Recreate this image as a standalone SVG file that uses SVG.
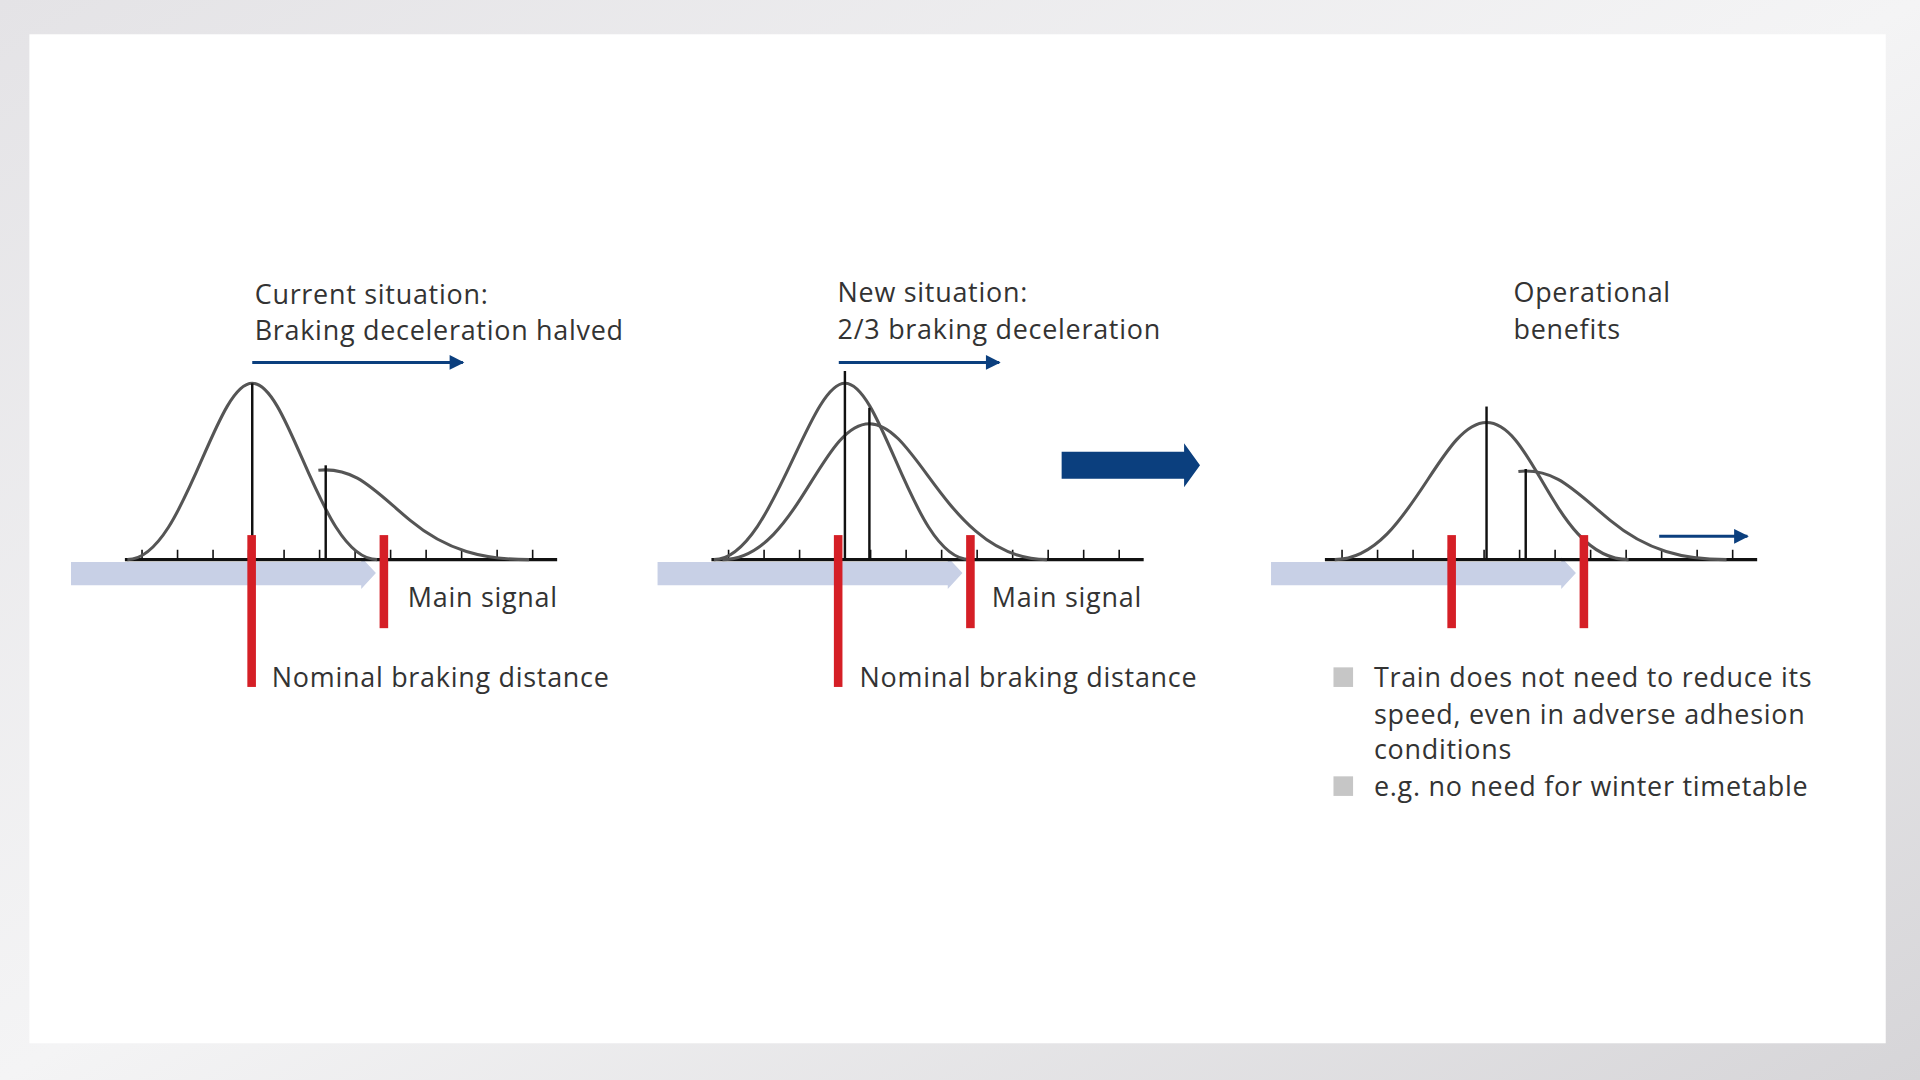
<svg xmlns="http://www.w3.org/2000/svg" width="1920" height="1080" viewBox="0 0 1920 1080">
<defs>
<linearGradient id="bg" x1="0" y1="0" x2="1" y2="1"><stop offset="0" stop-color="#e4e3e6"/><stop offset="0.5" stop-color="#f4f4f5"/><stop offset="1" stop-color="#d6d5d8"/></linearGradient>
<marker id="ah" viewBox="0 0 10 10" refX="9" refY="5" markerWidth="16" markerHeight="12" orient="auto" markerUnits="userSpaceOnUse"><path d="M0,0 L10,5 L0,10 z" fill="#0b3f7e"/></marker>
<style>
.t{font-family:"Open Sans","Liberation Sans",sans-serif;font-size:22px;letter-spacing:0.6px;fill:#333}
.c{fill:none;stroke:#555;stroke-width:2.5}
.v{stroke:#111;stroke-width:2}
.ax{stroke:#111;stroke-width:2.5}
.tk{stroke:#111;stroke-width:1.3}
.r{fill:#d51f26}
.band{fill:#c8d0e6}
.ba{stroke:#0b3f7e;stroke-width:2.5}
</style>
</defs>
<rect width="1920" height="1080" fill="url(#bg)"/>
<g transform="scale(1.2245)">
<rect x="24" y="28" width="1516" height="824" fill="#fff"/>
<g id="panel1">
<path class="band" d="M58,459 H295 V455 L307,468 L295,481 V478 H58z"/>
<line class="ax" x1="102" y1="457" x2="455" y2="457"/>
<path class="tk" d="M116,449v8M145,449v8M174,449v8M203,449v8M232,449v8M261,449v8M290,449v8M319,449v8M348,449v8M377,449v8M406,449v8M435,449v8"/>
<path class="c" d="M104,457 C150,457 175,313 206,313 C237,313 262,457 308,457"/>
<line class="v" x1="206" y1="313" x2="206" y2="457"/>
<path class="c" d="M260,384 C290,381 305,400 335,425 S395,457 432,457"/>
<line class="v" x1="266" y1="380" x2="266" y2="457"/>
<rect class="r" x="202" y="437" width="7" height="124"/>
<rect class="r" x="310" y="437" width="7" height="76"/>
<line class="ba" x1="206" y1="296" x2="378" y2="296" marker-end="url(#ah)"/>
<text class="t" x="208" y="248">Current situation:</text>
<text class="t" x="208" y="278">Braking deceleration halved</text>
<text class="t" x="333" y="496">Main signal</text>
<text class="t" x="222" y="561">Nominal braking distance</text>
</g>
<g id="panel2">
<path class="band" d="M537,459 H774 V455 L786,468 L774,481 V478 H537z"/>
<line class="ax" x1="581" y1="457" x2="934" y2="457"/>
<path class="tk" d="M595,449v8M624,449v8M653,449v8M682,449v8M711,449v8M740,449v8M769,449v8M798,449v8M827,449v8M856,449v8M885,449v8M914,449v8"/>
<path class="c" d="M583,457 C630,457 660,313 690,313 C721,313 746,457 792,457"/>
<path class="c" d="M590,457 C650,457 670,346 710,346 C750,346 775,457 855,457"/>
<line class="v" x1="690" y1="303" x2="690" y2="457"/>
<line class="v" x1="710" y1="333" x2="710" y2="457"/>
<rect class="r" x="681" y="437" width="7" height="124"/>
<rect class="r" x="789" y="437" width="7" height="76"/>
<line class="ba" x1="685" y1="296" x2="816" y2="296" marker-end="url(#ah)"/>
<text class="t" x="684" y="247">New situation:</text>
<text class="t" x="684" y="277">2/3 braking deceleration</text>
<text class="t" x="810" y="496">Main signal</text>
<text class="t" x="702" y="561">Nominal braking distance</text>
</g>
<g id="bigarrow"><path fill="#0b3f7e" d="M867,369 H967 V362 L980,380 L967,398 V391 H867z"/></g>
<g id="panel3">
<path class="band" d="M1038,459 H1275 V455 L1287,468 L1275,481 V478 H1038z"/>
<line class="ax" x1="1082" y1="457" x2="1435" y2="457"/>
<path class="tk" d="M1096,449v8M1125,449v8M1154,449v8M1183,449v8M1212,449v8M1241,449v8M1270,449v8M1299,449v8M1328,449v8M1357,449v8M1386,449v8M1415,449v8"/>
<path class="c" d="M1090,457 C1150,457 1175,345 1214,345 C1253,345 1270,457 1330,457"/>
<line class="v" x1="1214" y1="332" x2="1214" y2="457"/>
<path class="c" d="M1240,385 C1270,382 1285,400 1315,425 S1375,457 1410,457"/>
<line class="v" x1="1246" y1="383" x2="1246" y2="457"/>
<rect class="r" x="1182" y="437" width="7" height="76"/>
<rect class="r" x="1290" y="437" width="7" height="76"/>
<line class="ba" x1="1355" y1="438" x2="1427" y2="438" marker-end="url(#ah)"/>
<text class="t" x="1236" y="247">Operational</text>
<text class="t" x="1236" y="277">benefits</text>
<rect x="1089" y="545" width="16" height="16" fill="#c6c6c6"/>
<rect x="1089" y="634" width="16" height="16" fill="#c6c6c6"/>
<text class="t" x="1122" y="561">Train does not need to reduce its</text>
<text class="t" x="1122" y="591">speed, even in adverse adhesion</text>
<text class="t" x="1122" y="620">conditions</text>
<text class="t" x="1122" y="650">e.g. no need for winter timetable</text>
</g>
</g>
</svg>
